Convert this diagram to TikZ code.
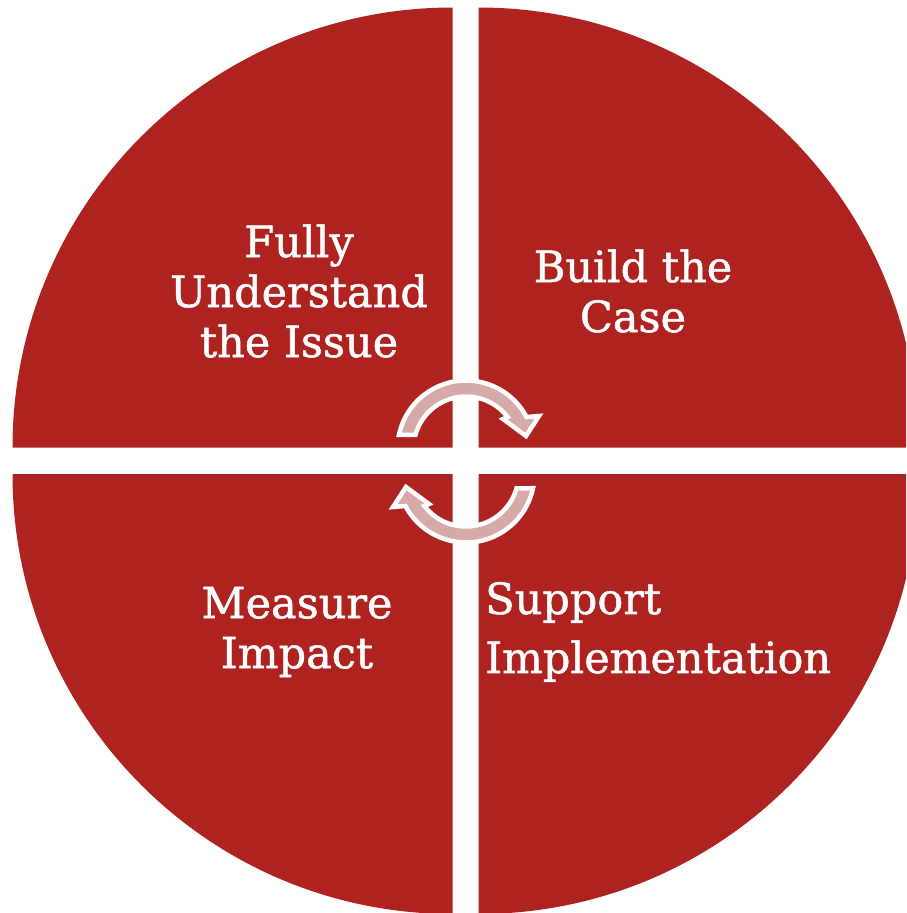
\documentclass[tikz,border=0pt]{standalone}
\usepackage{fontspec}
\setmainfont{DejaVu Serif}
\newfontfamily\rockfont{DejaVu Serif}[FakeBold=1.2]
\definecolor{qred}{HTML}{AE231F}
\definecolor{qpink}{HTML}{D5AAA9}
\begin{document}
\begin{tikzpicture}[x=1pt,y=-1pt,
  quad/.style={fill=qred},
  lbl/.style={text=white,font=\rockfont\fontsize{43}{50}\selectfont,inner sep=0pt,align=center},
  cyc/.style={fill=qpink,draw=white,line width=4.5pt,line join=miter},
  pics/cycarrow/.style={code={
    \path[cyc] (192:68.5) arc[start angle=192,end angle=332.15,radius=68.5]
      -- (73,-33) -- (60,-13) -- (37,-30) -- (322.4:52.5)
      arc[start angle=322.4,end angle=195.75,radius=52.5] -- cycle;}}]
\useasboundingbox (0,0) rectangle (906,913);
\clip (0,0) rectangle (906,913);
% quadrants
\fill[quad] (452.5,447.5) -- ++(180:440) arc[start angle=180,end angle=270,radius=440] -- cycle;
\fill[quad] (478.5,447.5) -- ++(270:440) arc[start angle=270,end angle=360,radius=440] -- cycle;
\fill[quad] (478.5,474) -- ++(0:440) arc[start angle=0,end angle=90,radius=440] -- cycle;
\fill[quad] (452.5,474) -- ++(90:440) arc[start angle=90,end angle=180,radius=440] -- cycle;
% cycle arrows
\pic at (466,449) {cycarrow};
\pic[rotate=180] at (466,474) {cycarrow};
% labels
\node[lbl] (t1) at (299,291) {Fully\\Understand\\the Issue};
\node[lbl] (t2) at (633,291) {Build the\\Case};
\node[lbl] (t3) at (297,632) {Measure\\Impact};
\node[lbl,align=left,anchor=west,font=\rockfont\fontsize{43}{59}\selectfont] (t4) at (485,632) {Support\\Implementation};
\end{tikzpicture}
\end{document}
